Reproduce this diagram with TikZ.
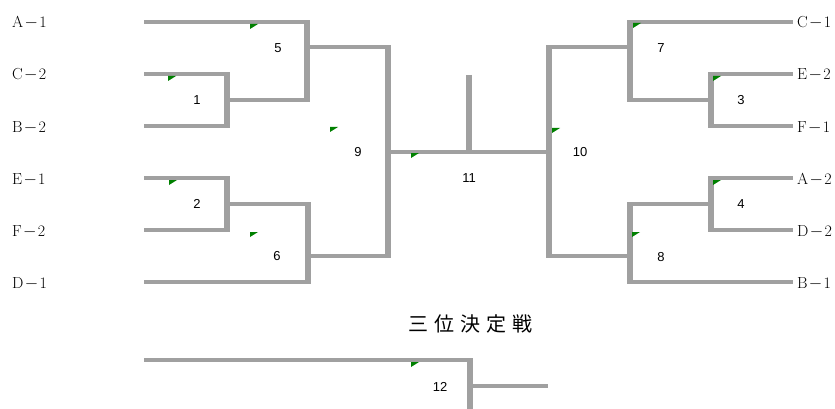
\documentclass[tikz,border=0pt]{standalone}
\usepackage{fontspec}
\newfontfamily\numfont{Liberation Sans}
\newfontfamily\cjkfont{Noto Sans CJK JP}
\definecolor{linegray}{RGB}{160,160,160}
\definecolor{flaggreen}{RGB}{0,128,0}
\newcommand{\tm}[2]{#1\makebox[16pt]{$-$}#2}
\begin{document}
\begin{tikzpicture}[x=1pt,y=-1pt,
  hline/.style={draw=linegray,line width=3.5pt},
  vline/.style={draw=linegray,line width=5.5pt,shorten <=-1.75pt,shorten >=-1.75pt},
  stub/.style={draw=linegray,line width=5.5pt},
  team/.style={font=\fontsize{16}{18}\selectfont,inner sep=0pt},
  num/.style={font=\numfont\fontsize{13}{14}\selectfont,inner sep=0pt},
  flag/.style={fill=flaggreen}
]
\fill[white] (0,0) rectangle (835,409);
\useasboundingbox (0,0) rectangle (835,409);

% ---- team labels
\node[team,anchor=base west] (tA1) at (12,28)  {\tm{A}{1}};
\node[team,anchor=base west] (tC2) at (12,80)  {\tm{C}{2}};
\node[team,anchor=base west] (tB2) at (12,132) {\tm{B}{2}};
\node[team,anchor=base west] (tE1) at (12,184) {\tm{E}{1}};
\node[team,anchor=base west] (tF2) at (12,236) {\tm{F}{2}};
\node[team,anchor=base west] (tD1) at (12,288) {\tm{D}{1}};
\node[team,anchor=base west] (tC1) at (797,28)  {\tm{C}{1}};
\node[team,anchor=base west] (tE2) at (797,80)  {\tm{E}{2}};
\node[team,anchor=base west] (tF1) at (797,132) {\tm{F}{1}};
\node[team,anchor=base west] (tA2) at (797,184) {\tm{A}{2}};
\node[team,anchor=base west] (tD2) at (797,236) {\tm{D}{2}};
\node[team,anchor=base west] (tB1) at (797,288) {\tm{B}{1}};

% ---- coordinates
\coordinate (sA1) at (144,22);
\coordinate (sC2) at (144,74);
\coordinate (sB2) at (144,126);
\coordinate (sE1) at (144,178);
\coordinate (sF2) at (144,230);
\coordinate (sD1) at (144,282);
\coordinate (eC1) at (793,22);
\coordinate (eE2) at (793,74);
\coordinate (eF1) at (793,126);
\coordinate (eA2) at (793,178);
\coordinate (eD2) at (793,230);
\coordinate (eB1) at (793,282);

\coordinate (m1t) at (227,74);  \coordinate (m1b) at (227,126); \coordinate (m1o) at (227,100);
\coordinate (m5t) at (307,22);  \coordinate (m5b) at (307,100); \coordinate (m5o) at (307,47);
\coordinate (m2t) at (227,178); \coordinate (m2b) at (227,230); \coordinate (m2o) at (227,204);
\coordinate (m6t) at (308,204); \coordinate (m6b) at (308,282); \coordinate (m6o) at (308,256);
\coordinate (m9t) at (388,47);  \coordinate (m9b) at (388,256); \coordinate (m9o) at (388,152);
\coordinate (m11top) at (469,75); \coordinate (m11) at (469,152);
\coordinate (m10t) at (549,47); \coordinate (m10b) at (549,256); \coordinate (m10o) at (549,152);
\coordinate (m7t) at (630,22);  \coordinate (m7b) at (630,100); \coordinate (m7o) at (630,47);
\coordinate (m3t) at (711,74);  \coordinate (m3b) at (711,126); \coordinate (m3o) at (711,100);
\coordinate (m4t) at (711,178); \coordinate (m4b) at (711,230); \coordinate (m4o) at (711,204);
\coordinate (m8t) at (630,204); \coordinate (m8b) at (630,282); \coordinate (m8o) at (630,256);
\coordinate (s3a) at (144,360);
\coordinate (m12t) at (470,360); \coordinate (m12b) at (470,412); \coordinate (m12o) at (470,386);
\coordinate (e12) at (548,386);

% ---- horizontal lines
\draw[hline] (sA1) -- (m5t);
\draw[hline] (sC2) -- (m1t);
\draw[hline] (sB2) -- (m1b);
\draw[hline] (m1o) -- (m5b);
\draw[hline] (m5o) -- (m9t);
\draw[hline] (sE1) -- (m2t);
\draw[hline] (sF2) -- (m2b);
\draw[hline] (m2o) -- (m6t);
\draw[hline] (sD1) -- (m6b);
\draw[hline] (m6o) -- (m9b);
\draw[hline] (m9o) -- (m10o);
\draw[hline] (m7o) -- (m10t);
\draw[hline] (m8o) -- (m10b);
\draw[hline] (m7t) -- (eC1);
\draw[hline] (m3o) -- (m7b);
\draw[hline] (m3t) -- (eE2);
\draw[hline] (m3b) -- (eF1);
\draw[hline] (m4t) -- (eA2);
\draw[hline] (m4b) -- (eD2);
\draw[hline] (m4o) -- (m8t);
\draw[hline] (m8b) -- (eB1);
\draw[hline] (s3a) -- (m12t);
\draw[hline] (m12o) -- (e12);

% ---- vertical lines
\draw[vline] (m1t) -- (m1b);
\draw[vline] (m5t) -- (m5b);
\draw[vline] (m2t) -- (m2b);
\draw[vline] (m6t) -- (m6b);
\draw[vline] (m9t) -- (m9b);
\draw[stub] (m11top) -- (m11);
\draw[vline] (m10t) -- (m10b);
\draw[vline] (m7t) -- (m7b);
\draw[vline] (m3t) -- (m3b);
\draw[vline] (m4t) -- (m4b);
\draw[vline] (m8t) -- (m8b);
\draw[vline] (m12t) -- (m12b);

% ---- flags
\foreach \fx/\fy in {168/76, 250/24, 169/180, 250/232, 330/127, 411/153, 552/128,
                     633/23, 713/76, 713/180, 632/232, 411/362}
  \fill[flag] (\fx,\fy) -- ++(8,0) -- ++(-8,5) -- cycle;

% ---- match numbers
\node[num] (n1)  at (197,100.5) {1};
\node[num] (n5)  at (278,48)  {5};
\node[num] (n2)  at (197,204) {2};
\node[num] (n6)  at (277,256) {6};
\node[num] (n9)  at (358,152) {9};
\node[num] (n11) at (469,178) {11};
\node[num] (n10) at (580,152) {10};
\node[num] (n7)  at (661,48)  {7};
\node[num] (n3)  at (741,100) {3};
\node[num] (n4)  at (741,204) {4};
\node[num] (n8)  at (661,257) {8};
\node[num] (n12) at (440,387) {12};

% ---- title
\node[font=\cjkfont\fontsize{20}{22}\selectfont,inner sep=0pt] (title) at (470,323.5)
  {三\hspace{6pt}位\hspace{6pt}決\hspace{6pt}定\hspace{6pt}戦};
\end{tikzpicture}
\end{document}
